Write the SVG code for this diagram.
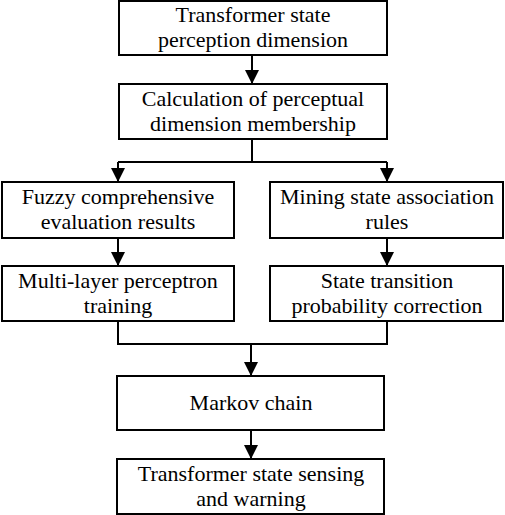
<svg xmlns="http://www.w3.org/2000/svg" width="505" height="515" viewBox="0 0 505 515">
<defs>
<marker id="ah" viewBox="0 0 14 14" refX="14" refY="7" markerWidth="14" markerHeight="14" markerUnits="userSpaceOnUse" orient="auto">
<path d="M0,0 L14,7 L0,14 Z" fill="#000"/>
</marker>
</defs>
<style>
.box{fill:#fff;stroke:#000;stroke-width:2}
.c{fill:none;stroke:#000;stroke-width:2}
</style>
<rect width="505" height="515" fill="#fff"/>
<g id="connectors">
<path class="c" d="M252,55 V84" marker-end="url(#ah)"/>
<path class="c" d="M252,139 V162"/>
<path class="c" d="M118,162 H387"/>
<path class="c" d="M118,162 V182" marker-end="url(#ah)"/>
<path class="c" d="M387,162 V182" marker-end="url(#ah)"/>
<path class="c" d="M118,238 V266" marker-end="url(#ah)"/>
<path class="c" d="M387,238 V266" marker-end="url(#ah)"/>
<path class="c" d="M118,321 V344 H387 V321"/>
<path class="c" d="M251,344 V376" marker-end="url(#ah)"/>
<path class="c" d="M251,430 V459" marker-end="url(#ah)"/>
</g>
<g font-family="Liberation Serif, DejaVu Serif, serif" font-size="22" fill="#000" text-anchor="middle">
<g id="n1"><rect class="box" x="119" y="1" width="268" height="54"/><text x="253" y="22">Transformer state</text><text x="253" y="47">perception dimension</text></g>
<g id="n2"><rect class="box" x="119" y="84" width="268" height="55"/><text x="253" y="106">Calculation of perceptual</text><text x="253" y="131">dimension membership</text></g>
<g id="n3"><rect class="box" x="2" y="182" width="232" height="56"/><text x="118" y="204">Fuzzy comprehensive</text><text x="118" y="229">evaluation results</text></g>
<g id="n4"><rect class="box" x="270" y="182" width="233" height="56"/><text x="387" y="204">Mining state association</text><text x="387" y="229">rules</text></g>
<g id="n5"><rect class="box" x="2" y="266" width="232" height="55"/><text x="118" y="288">Multi-layer perceptron</text><text x="118" y="313">training</text></g>
<g id="n6"><rect class="box" x="270" y="266" width="233" height="55"/><text x="387" y="288">State transition</text><text x="387" y="313">probability correction</text></g>
<g id="n7"><rect class="box" x="117" y="376" width="267" height="54"/><text x="251" y="410">Markov chain</text></g>
<g id="n8"><rect class="box" x="117" y="459" width="267" height="55"/><text x="251" y="481">Transformer state sensing</text><text x="251" y="506">and warning</text></g>
</g>
</svg>
